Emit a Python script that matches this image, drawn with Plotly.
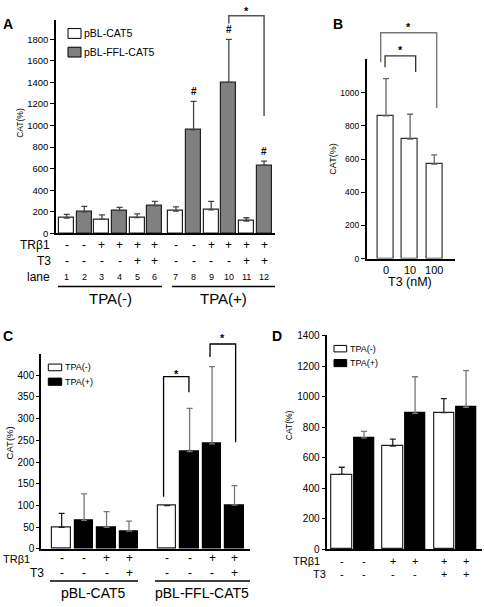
import plotly.graph_objects as go

W, H = 484, 607
FONT = "Arial, 'Liberation Sans', Helvetica, sans-serif"

# ---------------- data ----------------
# Panel A
a_lanes = [1, 2, 3, 4, 5, 6, 7, 8, 9, 10, 11, 12]
a_reporter = ["pBL-CAT5", "pBL-FFL-CAT5"] * 6
a_values = [140, 200, 130, 210, 145, 257, 205, 960, 217, 1400, 114, 630]
a_errors = [35, 50, 40, 30, 35, 40, 40, 265, 80, 400, 30, 40]
a_trb1 = ["-", "-", "+", "+", "+", "+", "-", "-", "+", "+", "+", "+"]
a_t3 = ["-", "-", "-", "-", "+", "+", "-", "-", "-", "-", "+", "+"]
a_tpa = ["TPA(-)"] * 6 + ["TPA(+)"] * 6
a_hash_lanes = [8, 10, 12]
a_yticks = [0, 200, 400, 600, 800, 1000, 1200, 1400, 1600, 1800]

# Panel B
b_t3_nm = ["0", "10", "100"]
b_values = [860, 720, 570]
b_errors = [225, 150, 55]
b_yticks = [0, 200, 400, 600, 800, 1000]

# Panel C
c_reporter = ["pBL-CAT5"] * 4 + ["pBL-FFL-CAT5"] * 4
c_tpa = ["TPA(-)", "TPA(+)", "TPA(+)", "TPA(+)"] * 2
c_trb1 = ["-", "-", "+", "+"] * 2
c_t3 = ["-", "-", "-", "+"] * 2
c_values = [50, 66, 50, 41, 100, 224, 242, 101]
c_errors = [32, 61, 36, 23, 0, 100, 178, 45]
c_yticks = [0, 50, 100, 150, 200, 250, 300, 350, 400]

# Panel D
d_tpa = ["TPA(-)", "TPA(+)"] * 3
d_trb1 = ["-", "-", "+", "+", "+", "+"]
d_t3 = ["-", "-", "-", "-", "+", "+"]
d_values = [490, 730, 675, 890, 895, 930]
d_errors = [47, 42, 47, 240, 92, 240]
d_yticks = [0, 200, 400, 600, 800, 1000, 1200, 1400]

# ---------------- positions (derived from categories) ----------------
a_pos = [l + (0.2 if l > 6 else 0) for l in a_lanes]
b_pos = list(range(len(b_t3_nm)))
c_pos = [i + 1 + (0.7 if c_reporter[i] != c_reporter[0] else 0) for i in range(len(c_values))]
d_pos = [2.29 * (i // 2) + (i % 2) for i in range(len(d_values))]

# ---------------- layout geometry (pixels) ----------------
AX = {
    'A': dict(xa='x', ya='y', xd=(56, 275), xr=(0.393, 12.82), yd=(232.5, 15), yr=(0, 1982)),
    'B': dict(xa='x2', ya='y2', xd=(366.7, 455), xr=(-0.8, 2.86), yd=(258.3, 55), yr=(0, 1203)),
    'C': dict(xa='x3', ya='y3', xd=(41, 250), xr=(0.08, 9.39), yd=(554, 355), yr=(0, 450)),
    'D': dict(xa='x4', ya='y4', xd=(327.3, 481.7), xr=(-0.65, 6.28), yd=(554.3, 336), yr=(0, 1404)),
}


def px_x(p):
    return p / W


def px_y(p):
    return 1 - p / H


def dx(p, v):
    a = AX[p]
    x0, x1 = a['xd']
    r0, r1 = a['xr']
    return px_x(x0 + (v - r0) / (r1 - r0) * (x1 - x0))


def dy(p, v):
    a = AX[p]
    y0, y1 = a['yd']
    r0, r1 = a['yr']
    return px_y(y0 + (v - r0) / (r1 - r0) * (y1 - y0))


fig = go.Figure()
shapes = []
ann = []


def add_bars(p, xs, ys, es, fill, line_color, err_color, width):
    a = AX[p]
    fig.add_trace(go.Bar(
        x=xs, y=ys, width=width, xaxis=a['xa'], yaxis=a['ya'],
        marker=dict(color=fill, line=dict(color=line_color, width=1.2)),
        error_y=dict(type='data', array=es, arrayminus=[0] * len(es), symmetric=False,
                     color=err_color, thickness=1.3, width=3),
        showlegend=False, hoverinfo='skip'))


def sel(lst, idx):
    return [lst[i] for i in idx]


# Panel A bars
ia_w = [i for i, r in enumerate(a_reporter) if r == "pBL-CAT5"]
ia_g = [i for i, r in enumerate(a_reporter) if r == "pBL-FFL-CAT5"]
add_bars('A', sel(a_pos, ia_w), sel(a_values, ia_w), sel(a_errors, ia_w), 'white', '#222', '#444', 0.85)
add_bars('A', sel(a_pos, ia_g), sel(a_values, ia_g), sel(a_errors, ia_g), '#808080', '#222', '#444', 0.85)

# Panel B bars
add_bars('B', b_pos, b_values, b_errors, 'white', '#333', '#666', 0.66)

# Panel C bars
ic_w = [i for i, t in enumerate(c_tpa) if t == "TPA(-)"]
ic_b = [i for i, t in enumerate(c_tpa) if t == "TPA(+)"]
add_bars('C', sel(c_pos, ic_w), sel(c_values, ic_w), sel(c_errors, ic_w), 'white', '#222', '#222', 0.83)
add_bars('C', sel(c_pos, ic_b), sel(c_values, ic_b), sel(c_errors, ic_b), 'black', 'black', '#777', 0.83)

# Panel D bars
id_w = [i for i, t in enumerate(d_tpa) if t == "TPA(-)"]
id_b = [i for i, t in enumerate(d_tpa) if t == "TPA(+)"]
add_bars('D', sel(d_pos, id_w), sel(d_values, id_w), sel(d_errors, id_w), 'white', '#222', '#222', 0.9)
add_bars('D', sel(d_pos, id_b), sel(d_values, id_b), sel(d_errors, id_b), 'black', 'black', '#777', 0.9)


def txt(x, y, s, size, xref='paper', yref='paper', xanchor='center', yanchor='middle', bold=False,
        angle=0, color='black'):
    ann.append(dict(x=x, y=y, xref=xref, yref=yref, text=(f"<b>{s}</b>" if bold else s),
                    showarrow=False, xanchor=xanchor, yanchor=yanchor, textangle=angle,
                    font=dict(size=size, color=color, family=FONT)))


def hline(x0, x1, y, width=1.5, color='black'):
    shapes.append(dict(type='line', xref='paper', yref='paper', x0=x0, x1=x1, y0=y, y1=y,
                       line=dict(color=color, width=width)))


def bracket(p, xl, xr, ytop, yl, yr, star_y, color, width=1.3):
    X0, X1, T = dx(p, xl), dx(p, xr), dy(p, ytop)
    path = f"M {X0},{dy(p, yl)} L {X0},{T} L {X1},{T} L {X1},{dy(p, yr)}"
    shapes.append(dict(type='path', path=path, xref='paper', yref='paper',
                       line=dict(color=color, width=width)))
    txt(dx(p, (xl + xr) / 2), dy(p, star_y), "*", 11, bold=True)


def legend_box(x0, x1, y0, y1, fill, label, size):
    shapes.append(dict(type='rect', xref='paper', yref='paper', x0=px_x(x0), x1=px_x(x1),
                       y0=px_y(y1), y1=px_y(y0), fillcolor=fill, line=dict(color='black', width=1)))
    txt(px_x(x1 + 1), px_y((y0 + y1) / 2), label, size, xanchor='left')


# ---------- Panel A decorations ----------
txt(px_x(8), px_y(19), "A", 14, bold=True)
txt(px_x(20), px_y(120), "CAT(%)", 8.5, angle=-90)
legend_box(68, 81, 24, 34, 'white', "pBL-CAT5", 10.5)
legend_box(68, 81, 43, 53, '#808080', "pBL-FFL-CAT5", 10.5)
for l in a_hash_lanes:
    i = a_lanes.index(l)
    ann.append(dict(x=a_pos[i], y=a_values[i] + a_errors[i], xref='x', yref='y', text="<b>#</b>",
                    showarrow=False, yanchor='bottom', yshift=2,
                    font=dict(size=10, color='black', family=FONT)))
bracket('A', a_pos[9], a_pos[11], 2019, 1946, 1089, 2062, '#555', 1.5)
txt(px_x(34.5), px_y(244), "TRβ1", 12)
txt(px_x(43.5), px_y(261), "T3", 12)
txt(px_x(38.5), px_y(277), "lane", 12)
for i in range(len(a_lanes)):
    txt(a_pos[i], px_y(244), a_trb1[i], 12, xref='x')
    txt(a_pos[i], px_y(261), a_t3[i], 12, xref='x')
    txt(a_pos[i], px_y(277), str(a_lanes[i]), 9, xref='x')
a_group_spans = {"TPA(-)": (0.506, 6.41), "TPA(+)": (6.98, 12.82)}
for g in ["TPA(-)", "TPA(+)"]:
    s0, s1 = a_group_spans[g]
    hline(dx('A', s0), dx('A', s1), px_y(286.7), 1.5)
    txt(dx('A', (s0 + s1) / 2), px_y(298.5), g, 15)

# ---------- Panel B decorations ----------
txt(px_x(338), px_y(19), "B", 14, bold=True)
txt(px_x(333.5), px_y(157), "CAT(%)", 9, angle=-90)
txt(dx('B', 1), px_y(282), "T3 (nM)", 12.5)
bracket('B', -0.22, 2.1, 1361, 1183, 907, 1395, '#777', 1.4)
bracket('B', -0.04, 1.23, 1222, 1154, 1124, 1257, '#333', 1.3)

# ---------- Panel C decorations ----------
txt(px_x(8), px_y(337.5), "C", 14, bold=True)
txt(px_x(9.5), px_y(446), "CAT(%)", 9.5, angle=-90)
legend_box(48.3, 61.7, 365.7, 372.5, 'white', "TPA(-)", 9)
legend_box(48.3, 61.7, 380, 387.3, 'black', "TPA(+)", 9)
bracket('C', 5.54, 6.67, 397, 120, 361, 404, 'black', 1.3)
bracket('C', 7.61, 8.75, 472, 442, 246, 486, 'black', 1.3)
txt(px_x(16), px_y(564), "TRβ1", 11)
txt(px_x(37), px_y(578.5), "T3", 12)
for i in range(len(c_values)):
    txt(c_pos[i], px_y(563), c_trb1[i], 12, xref='x3')
    txt(c_pos[i], px_y(578), c_t3[i], 12, xref='x3')
c_group_spans = {"pBL-CAT5": (0.479, 4.40), "pBL-FFL-CAT5": (5.158, 9.39)}
for g in ["pBL-CAT5", "pBL-FFL-CAT5"]:
    s0, s1 = c_group_spans[g]
    hline(dx('C', s0), dx('C', s1), px_y(586.7), 1.5)
    txt(dx('C', (s0 + s1) / 2), px_y(598.5), g, 14)

# ---------- Panel D decorations ----------
txt(px_x(276.7), px_y(336.7), "D", 14, bold=True)
txt(px_x(289), px_y(428), "CAT(%)", 8.5, angle=-90)
legend_box(334, 346.7, 346.7, 353.3, 'white', "TPA(-)", 9)
legend_box(334, 346.7, 361, 368.3, 'black', "TPA(+)", 9)
txt(px_x(306.5), px_y(566), "TRβ1", 11)
txt(px_x(319.5), px_y(580), "T3", 11)
for i in range(len(d_values)):
    txt(d_pos[i], px_y(566), d_trb1[i], 11, xref='x4')
    txt(d_pos[i], px_y(580), d_t3[i], 11, xref='x4')


# ---------- axes ----------
def yaxis_cfg(p, ticks, size, ticklen=4):
    a = AX[p]
    return dict(domain=[px_y(a['yd'][0]), px_y(a['yd'][1])], range=list(a['yr']), anchor=a['xa'],
                tickvals=ticks, ticks='outside', ticklen=ticklen, tickwidth=1, tickcolor='black',
                showline=True, linecolor='black', linewidth=1.5, showgrid=False, zeroline=False,
                tickfont=dict(size=size, color='black', family=FONT), fixedrange=True)


def xaxis_cfg(p):
    a = AX[p]
    return dict(domain=[px_x(a['xd'][0]), px_x(a['xd'][1])], range=list(a['xr']), anchor=a['ya'],
                showline=True, linecolor='black', linewidth=1.5, showticklabels=False, ticks='',
                showgrid=False, zeroline=False, fixedrange=True)


xb = xaxis_cfg('B')
xb.update(showticklabels=True, tickvals=b_pos, ticktext=b_t3_nm,
          tickfont=dict(size=11, color='black', family=FONT))

fig.update_layout(
    width=W, height=H, margin=dict(l=0, r=0, t=0, b=0, pad=0),
    paper_bgcolor='white', plot_bgcolor='white', bargap=0,
    font=dict(family=FONT, color='black'),
    xaxis=xaxis_cfg('A'), yaxis=yaxis_cfg('A', a_yticks, 9.5),
    xaxis2=xb, yaxis2=yaxis_cfg('B', b_yticks, 8.5),
    xaxis3=xaxis_cfg('C'), yaxis3=yaxis_cfg('C', c_yticks, 10, 3),
    xaxis4=xaxis_cfg('D'), yaxis4=yaxis_cfg('D', d_yticks, 10),
    shapes=shapes, annotations=ann,
)

fig.write_html("out.html", config={'displayModeBar': False},
               post_script="document.body.style.margin='0';document.body.style.padding='0';")
